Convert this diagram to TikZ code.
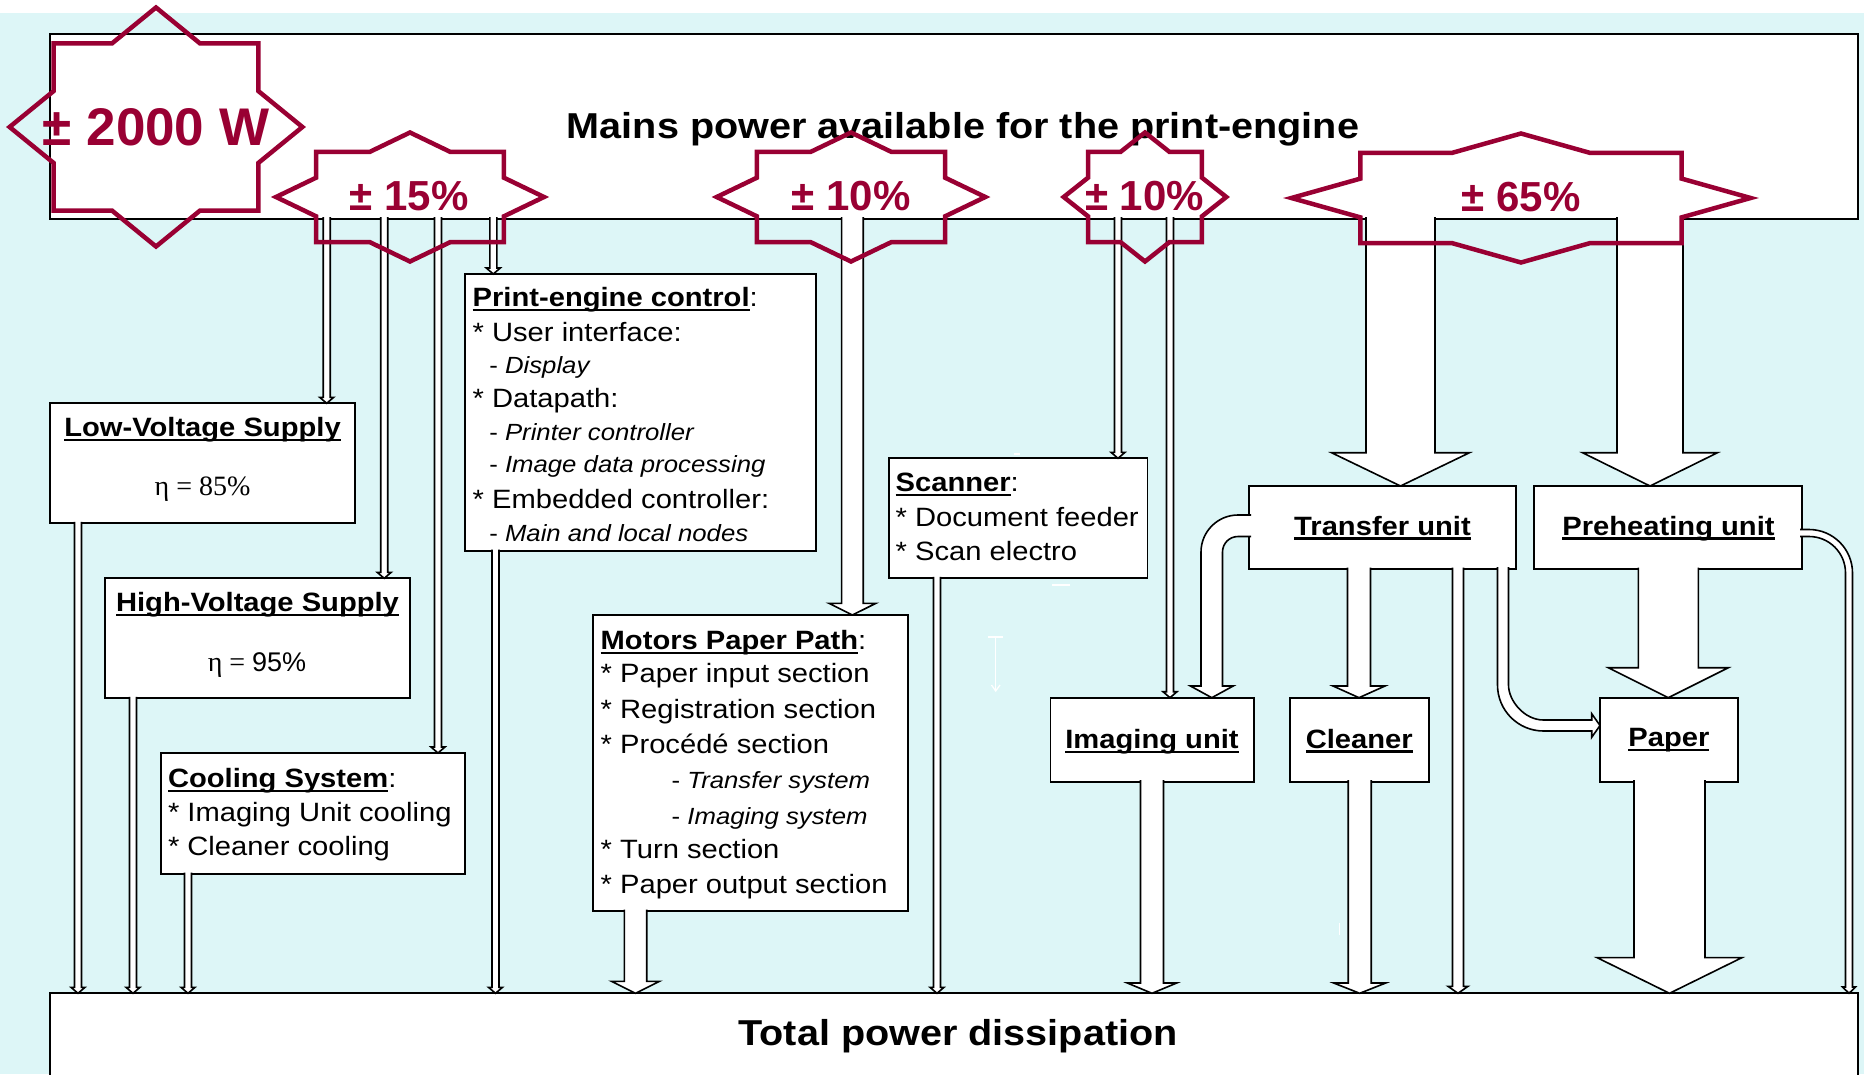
\documentclass[tikz,border=0pt]{standalone}
\usepackage{fontspec}
\setmainfont{Liberation Sans}
\newfontfamily\bxf{Liberation Sans}[FakeStretch=1.1]
\newfontfamily\stf{Liberation Sans}
\newfontfamily\sef{Liberation Serif}
\usetikzlibrary{calc}
\definecolor{burg}{RGB}{153,0,51}
\definecolor{bgc}{RGB}{221,246,247}

\newcommand\ulx[1]{\setbox0=\hbox{#1}\rlap{\rule[-4.5pt]{\wd0}{2.2pt}}\box0}
\newcommand\fA{\bxf\fontsize{26.5}{30}\selectfont}
\newcommand\fB{\bxf\fontsize{23.4}{27}\selectfont}
\newcommand\fT{\bxf\bfseries\fontsize{36}{40}\selectfont}

% downward block arrow: x, source anchor, target anchor, half shaft, half head, head length
\newcommand\dnarrow[6]{%
  \path[blk] let \p1=(#2), \p2=(#3) in
    ({#1pt-#4pt},{\y1+1.5pt}) -- ({#1pt-#4pt},{\y2+#6pt}) -- ({#1pt-#5pt},{\y2+#6pt})
    -- ({#1pt},{\y2}) -- ({#1pt+#5pt},{\y2+#6pt}) -- ({#1pt+#4pt},{\y2+#6pt})
    -- ({#1pt+#4pt},{\y1+1.5pt});}

% eight-point star outline: cx, cy, A, B
\newcommand\starpath[4]{%
  \draw[starline] ({#1},{#2-#4}) -- ({#1+0.3*#3},{#2-0.7*#4}) -- ({#1+0.7*#3},{#2-0.7*#4})
   -- ({#1+0.7*#3},{#2-0.3*#4}) -- ({#1+#3},{#2}) -- ({#1+0.7*#3},{#2+0.3*#4})
   -- ({#1+0.7*#3},{#2+0.7*#4}) -- ({#1+0.3*#3},{#2+0.7*#4}) -- ({#1},{#2+#4})
   -- ({#1-0.3*#3},{#2+0.7*#4}) -- ({#1-0.7*#3},{#2+0.7*#4}) -- ({#1-0.7*#3},{#2+0.3*#4})
   -- ({#1-#3},{#2}) -- ({#1-0.7*#3},{#2-0.3*#4}) -- ({#1-0.7*#3},{#2-0.7*#4})
   -- ({#1-0.3*#3},{#2-0.7*#4}) -- cycle;}

\tikzset{
  box/.style={draw=black, line width=1.8pt, fill=white, inner sep=0pt, outer sep=0pt, anchor=north west},
  blk/.style={draw=black, line width=1.6pt, fill=white, line join=miter},
  starline/.style={draw=burg, line width=4.5pt, line join=miter},
  lab/.style={inner sep=0pt, outer sep=0pt, anchor=base west, font=\fA},
  labc/.style={inner sep=0pt, outer sep=0pt, anchor=base, font=\fA\bfseries},
  subl/.style={inner sep=0pt, outer sep=0pt, anchor=base west, font=\fB},
  sttxt/.style={inner sep=0pt, outer sep=0pt, anchor=base, text=burg, font=\stf\bfseries\fontsize{42}{46}\selectfont},
  etat/.style={inner sep=0pt, outer sep=0pt, anchor=base, font=\sef\fontsize{28}{30}\selectfont},
  bigt/.style={inner sep=0pt, outer sep=0pt, anchor=base, font=\fT},
  artf/.style={draw=white, line width=1.3pt}
}

\begin{document}
\begin{tikzpicture}[x=1pt, y=-1pt]
\useasboundingbox (0,0) rectangle (1864,1074);
\clip (0,0) rectangle (1864,1074);
\fill[white] (0,0) rectangle (1864,1074);
\fill[bgc] (0,13) rectangle (1864,1074);

% ---------- boxes ----------
\node[box, minimum width=1807.7pt, minimum height=184.7pt] (mains) at (50,34) {};
\node[box, minimum width=1807.6pt, minimum height=100pt] (total) at (50,993.3) {};
\node[box, minimum width=305pt, minimum height=120pt] (lv) at (50,403.3) {};
\node[box, minimum width=305pt, minimum height=120pt] (hv) at (105,578.3) {};
\node[box, minimum width=304pt, minimum height=121pt] (cool) at (161,753) {};
\node[box, minimum width=351pt, minimum height=277pt] (pec) at (465,274) {};
\node[box, minimum width=315pt, minimum height=296pt] (mot) at (593.3,615) {};
\node[box, minimum width=258.5pt, minimum height=120pt] (scan) at (889,458.3) {};
\node[box, minimum width=267.4pt, minimum height=83pt] (trans) at (1248.6,486) {};
\node[box, minimum width=268pt, minimum height=83pt] (pre) at (1534.3,486) {};
\node[box, minimum width=203.6pt, minimum height=84pt] (img) at (1050.4,697.7) {};
\node[box, minimum width=139.4pt, minimum height=84pt] (clean) at (1289.6,697.7) {};
\node[box, minimum width=137.7pt, minimum height=84pt] (paper) at (1600,697.7) {};

% ---------- straight arrows ----------
\dnarrow{326.7}{mains.south}{lv.north}{3.5}{7}{6}
\dnarrow{384.2}{mains.south}{hv.north}{3.5}{7}{6}
\dnarrow{438}{mains.south}{cool.north}{3.5}{7}{6}
\dnarrow{493.3}{mains.south}{pec.north}{3.5}{7}{6}
\dnarrow{78}{lv.south}{total.north}{3.5}{7}{6}
\dnarrow{133}{hv.south}{total.north}{3.5}{7}{6}
\dnarrow{188}{cool.south}{total.north}{3.5}{7}{6}
\dnarrow{495.5}{pec.south}{total.north}{3.5}{7}{6}
\dnarrow{1118}{mains.south}{scan.north}{3.5}{7}{6}
\dnarrow{1170}{mains.south}{img.north}{3.5}{7}{6}
\dnarrow{937}{scan.south}{total.north}{3.5}{7}{6}
\dnarrow{1458}{trans.south}{total.north}{5.5}{10}{7}
\dnarrow{852.4}{mains.south}{mot.north}{10.8}{23.5}{11.7}
\dnarrow{635.5}{mot.south}{total.north}{11.2}{24}{12}
\dnarrow{1359}{trans.south}{clean.north}{11.5}{26}{11.7}
\dnarrow{1152}{img.south}{total.north}{11.5}{24.7}{10.3}
\dnarrow{1359.7}{clean.south}{total.north}{11.5}{26}{10.3}
\dnarrow{1400.5}{mains.south}{trans.north}{34.5}{69}{33.3}
\dnarrow{1650}{mains.south}{pre.north}{33}{67.5}{33.3}
\dnarrow{1668.3}{pre.south}{paper.north}{30}{60}{30}
\dnarrow{1669.5}{paper.south}{total.north}{35.5}{72.5}{35.7}

% ---------- bent arrows ----------
% Transfer unit -> Imaging unit
\path[blk] (1251,515) -- (1238,515) .. controls (1217.6,515) and (1201,531.6) .. (1201,552)
  -- (1201,686) -- (1190.4,686) -- (1211.8,697.7) -- (1233.2,686) -- (1222.5,686)
  -- (1222.5,552) .. controls (1222.5,543.4) and (1229.4,536.5) .. (1238,536.5) -- (1251,536.5);
% Transfer unit -> Paper
\path[blk] (1497.5,567) -- (1497.5,685) .. controls (1497.5,710.4) and (1518.1,731) .. (1543.5,731)
  -- (1591.7,731) -- (1591.7,737.3) -- (1600,725.5) -- (1591.7,713.7) -- (1591.7,720)
  -- (1543.5,720) .. controls (1524.2,720) and (1508.5,700.7) .. (1508.5,685) -- (1508.5,567);
% Preheating unit -> Total power dissipation
\path[blk] (1800,529.5) -- (1809,529.5) .. controls (1833,529.5) and (1852.5,549) .. (1852.5,573)
  -- (1852.5,987) -- (1855.5,987) -- (1849,993.3) -- (1842.5,987) -- (1845.5,987)
  -- (1845.5,573) .. controls (1845.5,552.8) and (1829.2,536.5) .. (1809,536.5) -- (1800,536.5);

% ---------- faint white marks ----------
\draw[artf] (1014,454) -- (1020,454);
\draw[artf] (1052,585) -- (1070,585);
\draw[artf] (988,637) -- (1003,637);
\draw[artf] (995.7,637) -- (995.7,691);
\draw[artf] (991.5,685) -- (995.7,691) -- (1000,685);
\draw[artf] (1339.4,923) -- (1339.4,935);

% ---------- box texts ----------
\node[bigt] (mainst) at (963,138.5) {Mains power available for the print-engine};
\node[bigt] (totalt) at (958,1045) {Total power dissipation};

\node[labc] (lvt) at (202.5,436.7) {\ulx{Low-Voltage Supply}};
\node[etat] (lveta) at (202.5,495) {η = 85\%};
\node[labc] (hvt) at (257.5,611.7) {\ulx{High-Voltage Supply}};
\node[etat] (hveta) at (257,671.7) {η = {\stf\fontsize{27}{30}\selectfont 95\%}};

\node[lab] (pec1) at (472.7,306.7) {\ulx{\bfseries Print-engine control}:};
\node[lab] (pec2) at (472.7,341) {* User interface:};
\node[subl] (pec3) at (489.3,373) {- \textit{Display}};
\node[lab] (pec4) at (472.7,407.7) {* Datapath:};
\node[subl] (pec5) at (489.3,440) {- \textit{Printer controller}};
\node[subl] (pec6) at (489.3,472.7) {- \textit{Image data processing}};
\node[lab] (pec7) at (472.7,508.3) {* Embedded controller:};
\node[subl] (pec8) at (489.3,541) {- \textit{Main and local nodes}};

\node[lab] (cool1) at (168,787.3) {\ulx{\bfseries Cooling System}:};
\node[lab] (cool2) at (168,821.7) {* Imaging Unit cooling};
\node[lab] (cool3) at (168,855) {* Cleaner cooling};

\node[lab] (mot1) at (600.7,649.3) {\ulx{\bfseries Motors Paper Path}:};
\node[lab] (mot2) at (600.7,682.7) {* Paper input section};
\node[lab] (mot3) at (600.7,718.3) {* Registration section};
\node[lab] (mot4) at (600.7,753.3) {* Procédé section};
\node[subl] (mot5) at (671.7,788.3) {- \textit{Transfer system}};
\node[subl] (mot6) at (671.7,824) {- \textit{Imaging system}};
\node[lab] (mot7) at (600.7,858.3) {* Turn section};
\node[lab] (mot8) at (600.7,893.3) {* Paper output section};

\node[lab] (scan1) at (895.7,491.7) {\ulx{\bfseries Scanner}:};
\node[lab] (scan2) at (895.7,526) {* Document feeder};
\node[lab] (scan3) at (895.7,560.7) {* Scan electro};

\node[labc] (transt) at (1382.5,535) {\ulx{Transfer unit}};
\node[labc] (pret) at (1668.5,535) {\ulx{Preheating unit}};
\node[labc] (imgt) at (1152,748.3) {\ulx{Imaging unit}};
\node[labc] (cleant) at (1359.3,748) {\ulx{Cleaner}};
\node[labc] (papert) at (1668.9,746.7) {\ulx{Paper}};

% ---------- stars ----------
\starpath{156}{127}{146.4}{119.5}
\starpath{410}{197}{134}{64.5}
\starpath{851}{197}{134.3}{64.5}
\starpath{1145}{197}{81.3}{64.5}
\starpath{1521}{198}{229.6}{64.5}

\node[sttxt, font=\stf\bfseries\fontsize{53}{56}\selectfont] (t2000) at (156,145) {± 2000 W};
\node[sttxt] (t15) at (409,210) {± 15\%};
\node[sttxt] (t10a) at (851,210) {± 10\%};
\node[sttxt] (t10b) at (1144.5,210) {± 10\%};
\node[sttxt] (t65) at (1521,211.7) {± 65\%};
\end{tikzpicture}
\end{document}
